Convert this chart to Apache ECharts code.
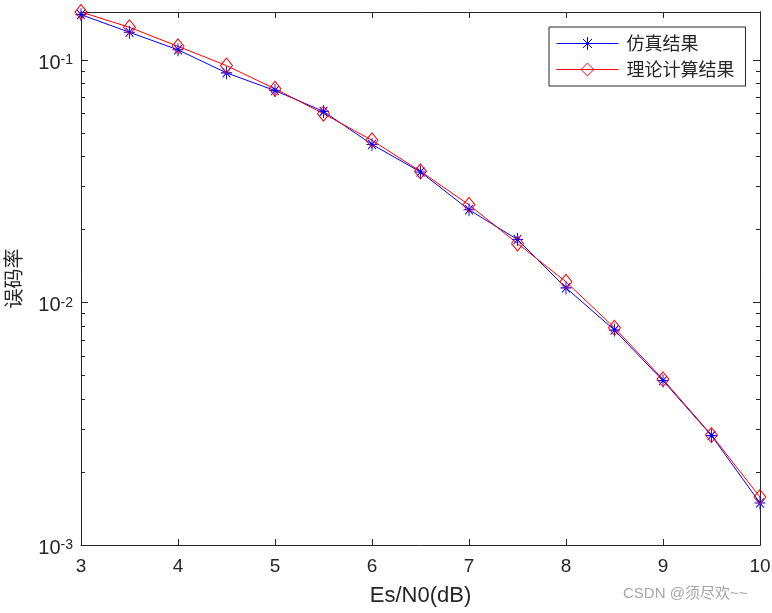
<!DOCTYPE html>
<html>
<head>
<meta charset="utf-8">
<script src="https://cdn.jsdelivr.net/npm/echarts@6/dist/echarts.min.js"></script>
<style>
html,body{margin:0;padding:0;background:#fff}
#main{width:772px;height:613px}
</style>
</head>
<body>
<div id="main"></div>
<script>
var snr = [3, 3.5, 4, 4.5, 5, 5.5, 6, 6.5, 7, 7.5, 8, 8.5, 9, 9.5, 10];
var simSer = [0.1536, 0.1299, 0.1100, 0.0884, 0.0747, 0.0613, 0.0448, 0.0345,
              0.0241, 0.01816, 0.01148, 0.00769, 0.00476, 0.002825, 0.00149];
var theorySer = [0.1575, 0.1362, 0.1137, 0.0947, 0.0760, 0.0600, 0.0466, 0.0347,
                 0.02526, 0.0175, 0.01216, 0.00786, 0.00482, 0.00284, 0.001576];
var majorTicks = [0.001, 0.01, 0.1];
var minorTicks = [0.002, 0.003, 0.004, 0.005, 0.006, 0.007, 0.008, 0.009,
                  0.02, 0.03, 0.04, 0.05, 0.06, 0.07, 0.08, 0.09];
var names = ['仿真结果', '理论计算结果'];
var colors = ['#0000ff', '#ff0000'];

var axisColor = '#262626';
var numFont = '"Liberation Sans", Arial, sans-serif';
var cjkFont = '"Noto Sans CJK SC", sans-serif';
var yMin = 0.001, yMax = 0.1575;

function pairs(xs, ys){
  var out = [];
  for (var i = 0; i < xs.length; i++) out.push([xs[i], ys[i]]);
  return out;
}

function xAx(pos, showLabel){
  return {
    type: 'value', position: pos, min: 3, max: 10, interval: 1,
    axisLine: {show: true, lineStyle: {color: axisColor, width: 1}},
    axisTick: {show: true, inside: true, length: 6, lineStyle: {color: axisColor}},
    axisLabel: {show: showLabel, margin: 12, color: axisColor, fontSize: 19, fontFamily: numFont},
    splitLine: {show: false}
  };
}

function yAx(pos, ticks, len, showLabel){
  return {
    type: 'log', logBase: 10, position: pos, min: yMin, max: yMax,
    axisLine: {show: true, lineStyle: {color: axisColor, width: 1}},
    axisTick: {show: true, inside: true, length: len, customValues: ticks,
               lineStyle: {color: axisColor}},
    axisLabel: {
      show: showLabel, customValues: majorTicks, margin: 8, padding: [7, 0, 0, 0],
      formatter: function(v){
        return '{b|10}{sup|' + Math.round(Math.log10(v)) + '}';
      },
      rich: {
        b: {fontSize: 20, lineHeight: 20, fontFamily: numFont, color: axisColor},
        sup: {fontSize: 14, lineHeight: 14, verticalAlign: 'top', fontFamily: numFont, color: axisColor}
      }
    },
    splitLine: {show: false},
    minorTick: {show: false}
  };
}

var xMain = xAx('bottom', true);
xMain.name = 'Es/N0(dB)';
xMain.nameLocation = 'middle';
xMain.nameGap = 40;
xMain.nameTextStyle = {color: axisColor, fontSize: 22, fontFamily: numFont};

var yMain = yAx('left', majorTicks, 7, true);
yMain.name = '误码率';
yMain.nameLocation = 'middle';
yMain.nameGap = 58;
yMain.nameRotate = 90;
yMain.nameTextStyle = {color: axisColor, fontSize: 20, fontFamily: cjkFont};

var star = 'path://M0,-10L0,10M-10,0L10,0M-7.07,-7.07L7.07,7.07M-7.07,7.07L7.07,-7.07';

var chart = echarts.init(document.getElementById('main'));

var opt = {
  animation: false,
  backgroundColor: '#fff',
  grid: {left: 81, right: 12, top: 12, bottom: 68, containLabel: false, outerBoundsMode: 'none'},
  legend: {
    data: [
      {name: names[0], lineStyle: {color: colors[0], width: 1},
       itemStyle: {color: colors[0], borderColor: colors[0], borderWidth: 1}},
      {name: names[1], lineStyle: {color: colors[1], width: 1},
       itemStyle: {color: 'rgba(0,0,0,0)', borderColor: colors[1], borderWidth: 1}}
    ],
    orient: 'vertical',
    left: 549, top: 27,
    padding: [7, 11, 7, 7],
    itemWidth: 62, itemHeight: 16, itemGap: 7,
    borderColor: '#262626', borderWidth: 1, backgroundColor: '#fff',
    textStyle: {fontSize: 18, lineHeight: 19, fontFamily: cjkFont, color: '#262626', padding: [0, 0, 0, 3]}
  },
  xAxis: [xMain, xAx('top', false)],
  yAxis: [
    yMain,
    yAx('left', minorTicks, 4, false),
    yAx('right', majorTicks, 7, false),
    yAx('right', minorTicks, 4, false)
  ],
  series: [
    {
      name: names[0], type: 'line', xAxisIndex: 0, yAxisIndex: 0,
      data: pairs(snr, simSer),
      symbol: star, symbolSize: [11, 13],
      lineStyle: {color: colors[0], width: 1},
      itemStyle: {color: colors[0], borderColor: colors[0], borderWidth: 1},
      emphasis: {disabled: true}
    },
    {
      name: names[1], type: 'line', xAxisIndex: 0, yAxisIndex: 0,
      data: pairs(snr, theorySer),
      symbol: 'diamond', symbolSize: [12, 15],
      lineStyle: {color: colors[1], width: 1},
      itemStyle: {color: 'rgba(0,0,0,0)', borderColor: colors[1], borderWidth: 1},
      emphasis: {disabled: true}
    }
  ],
  graphic: [{
    type: 'text', left: 623, top: 586,
    style: {text: 'CSDN @须尽欢~~', fill: '#a6a6a6', fontSize: 15, fontFamily: numFont + ', ' + cjkFont}
  }]
};

chart.setOption(opt);
</script>
</body>
</html>
